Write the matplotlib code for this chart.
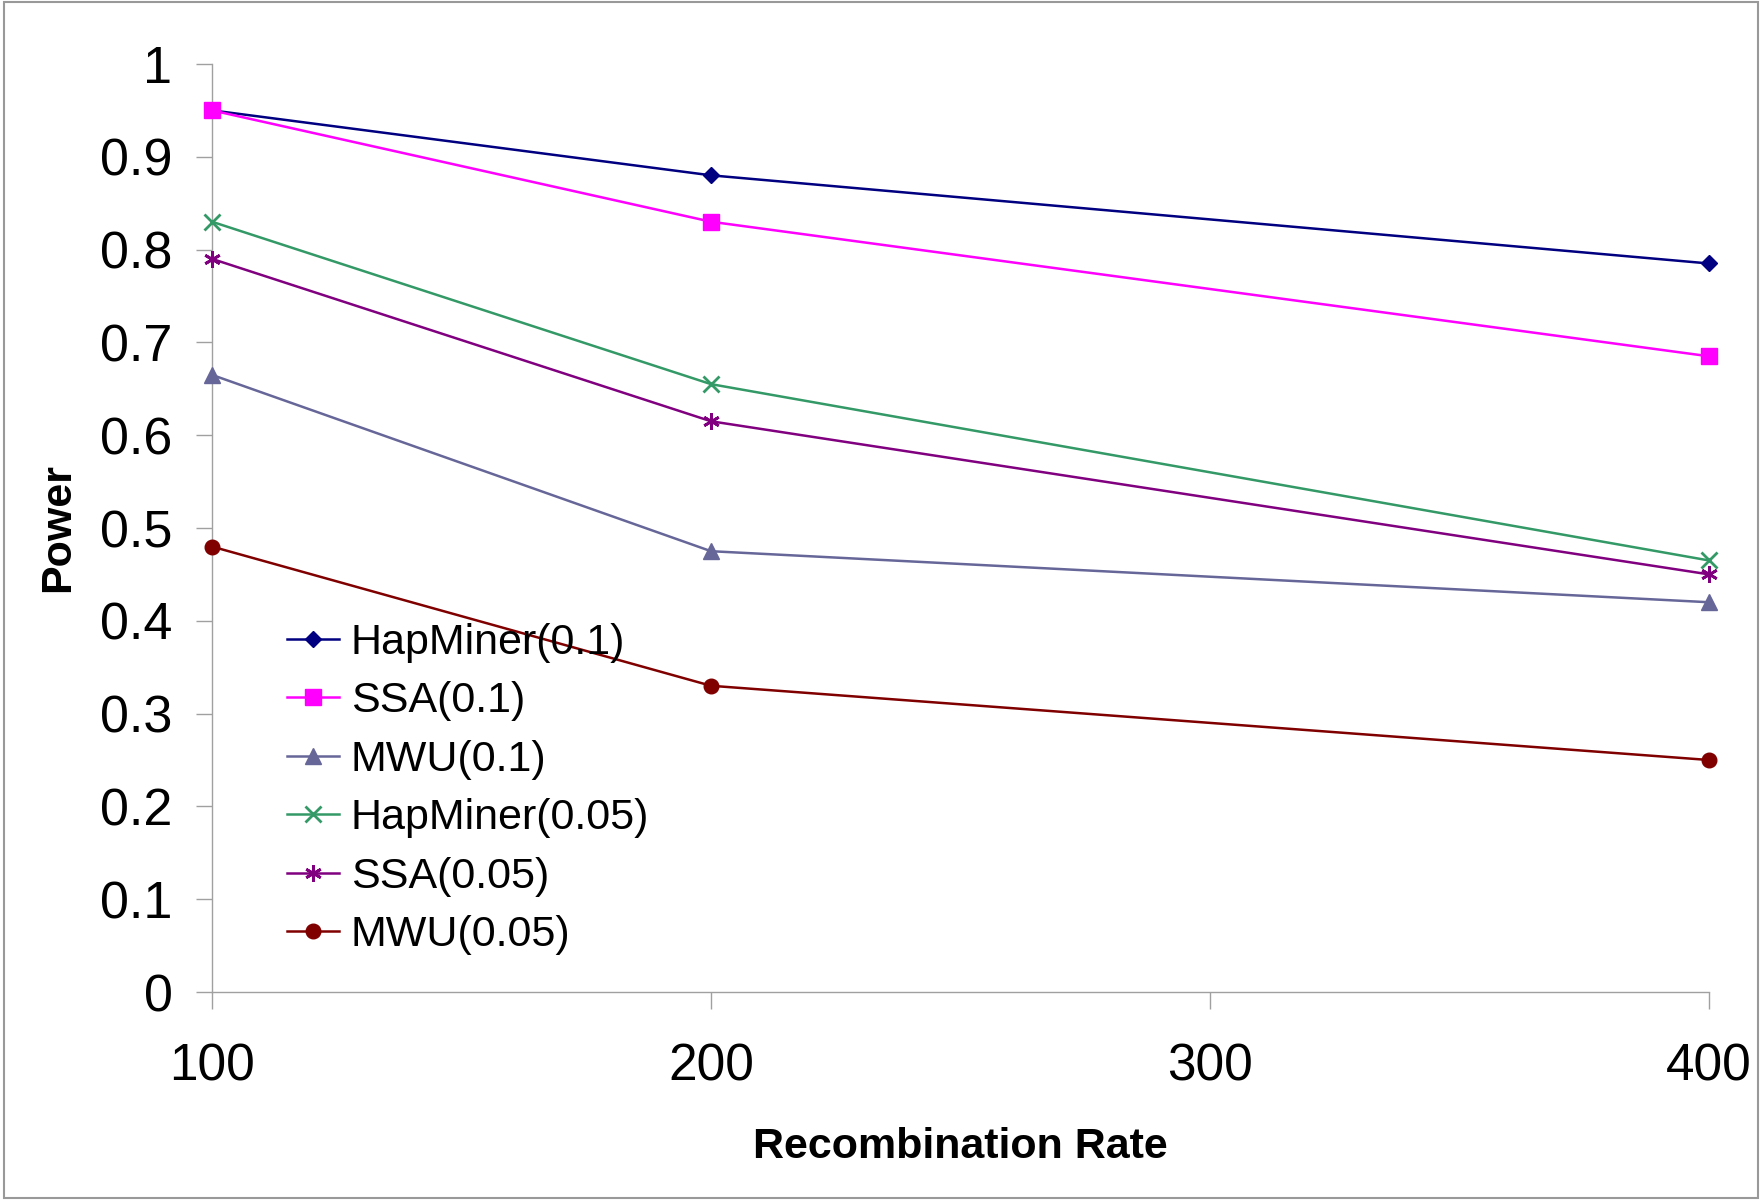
import numpy as np
import matplotlib.pyplot as plt
from matplotlib.patches import Rectangle

plt.rcParams['font.family'] = ['Liberation Sans', 'DejaVu Sans']

rates = [100, 200, 400]
hapminer_01 = [0.95, 0.88, 0.785]
ssa_01 = [0.95, 0.83, 0.685]
mwu_01 = [0.665, 0.475, 0.42]
hapminer_005 = [0.83, 0.655, 0.465]
ssa_005 = [0.79, 0.615, 0.45]
mwu_005 = [0.48, 0.33, 0.25]

labels = ['HapMiner(0.1)', 'SSA(0.1)', 'MWU(0.1)',
          'HapMiner(0.05)', 'SSA(0.05)', 'MWU(0.05)']
series = [hapminer_01, ssa_01, mwu_01, hapminer_005, ssa_005, mwu_005]
colors = ['#000080', '#ff00ff', '#666699', '#339966', '#800080', '#800000']
markers = ['D', 's', '^', 'x', (6, 2, 0), 'o']
msizes = [8.5, 11, 12, 11, 12, 10.5]
mews = [1, 1, 1, 2, 2, 1]

fig = plt.figure(figsize=(17.62, 12), dpi=100)
ax = fig.add_axes([0.1203, 0.1733, 0.8497, 0.7734])

# one line per method / threshold
for ys, lab, c, m, ms, mew in zip(series, labels, colors, markers, msizes, mews):
    ax.plot(rates, ys, color=c, lw=1.8, marker=m, markersize=ms,
            markeredgewidth=mew, label=lab, clip_on=False, zorder=3)

ax.set_xlim(100, 400)
ax.set_ylim(0, 1)
ax.set_xticks([100, 200, 300, 400])
ax.set_yticks(np.arange(0, 1.01, 0.1))
ax.set_yticklabels(['0', '0.1', '0.2', '0.3', '0.4', '0.5', '0.6', '0.7', '0.8', '0.9', '1'])

for s in ['top', 'right']:
    ax.spines[s].set_visible(False)
for s in ['left', 'bottom']:
    ax.spines[s].set_color('#a0a0a0')
    ax.spines[s].set_linewidth(1.0)

ax.tick_params(axis='y', direction='out', length=11.5, width=1, color='#a0a0a0',
               labelsize=37.5, pad=17)
ax.tick_params(axis='x', direction='out', length=12, width=1, color='#a0a0a0',
               labelsize=37, pad=24)

ax.set_xlabel('Recombination Rate', fontsize=31, fontweight='bold', labelpad=26)
ax.set_ylabel('Power', fontsize=31, fontweight='bold', labelpad=16)

ax.legend(loc='upper left', bbox_to_anchor=(0.0498, 0.398), frameon=False,
          fontsize=31, handlelength=1.23, handletextpad=0.26, labelspacing=0.43,
          borderpad=0, borderaxespad=0)

fig.patches.append(Rectangle((0.002, 0.002), 0.996, 0.996, transform=fig.transFigure,
                             fill=False, edgecolor='#999999', lw=1.5))

fig.savefig('out.png', dpi=100)
